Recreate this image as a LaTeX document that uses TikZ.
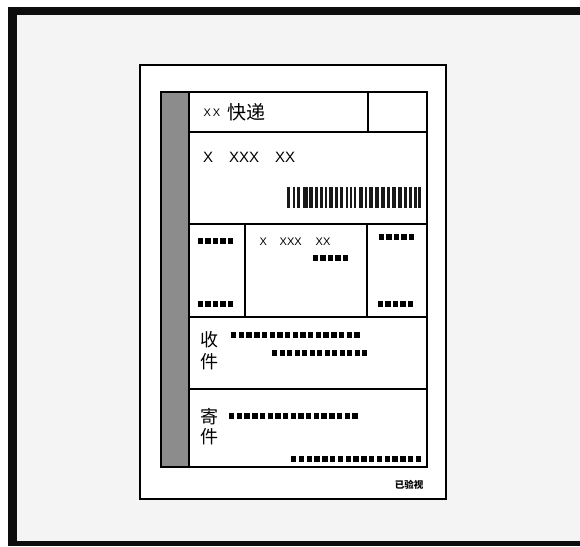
\documentclass[tikz,border=0pt]{standalone}
\usepackage{fontspec}
\setmainfont{Liberation Sans}
\newfontfamily\cjk{Noto Sans CJK SC}
\usetikzlibrary{positioning}
\definecolor{paper}{HTML}{F4F4F4}
\definecolor{strip}{HTML}{8C8C8C}
\tikzset{
  cell/.style={draw=black, line width=1.6pt},
  lbl/.style={inner sep=0pt, anchor=west},
  hanzi/.style={inner sep=0pt, font=\cjk\fontsize{18}{18}\selectfont},
}
% row of small black squares: x, y, count, pitch
\newcommand{\dotrow}[4]{%
  \foreach \k in {1,...,#3}
    \fill ({#1+(\k-1)*#4},{#2-2.7}) rectangle ++(5.4,5.4);}

\begin{document}
\begin{tikzpicture}[x=1pt,y=-1pt]
    \useasboundingbox (0,0) rectangle (580,546);
    \fill [white] (0,0) rectangle (580,546);
    \fill [black!95] (8,7) rectangle (580,546);
    \fill [paper] (16.5,14.5) rectangle (580,541);

    % the card
    \draw [fill = white, line width=1.5pt] (140,65) rectangle (446,499);
    \fill [strip] (161,92) rectangle (189,467);
    \draw [cell] (161,92) rectangle (427,467);
    \draw [cell] (189,92) -- (189,467);
    \draw [cell] (189,132) -- (427,132)
        (189,224) -- (427,224)
        (189,317) -- (427,317)
        (189,389) -- (427,389);
    \draw [cell] (368,92) -- (368,132)
        (245,224) -- (245,317)
        (367,224) -- (367,317);

    % header
    \node [lbl, font=\fontsize{11}{11}\selectfont] (brandx) at (203.5,113) {X\,X};
    \node [lbl, font=\cjk\fontsize{19}{19}\selectfont] (brand) at (227.5,112) {快递};
    \node [lbl, font=\fontsize{15}{15}\selectfont] (codea) at (203,157.5) {X};
    \node [lbl, font=\fontsize{15}{15}\selectfont] (codeb) at (229,157.5) {XXX};
    \node [lbl, font=\fontsize{15}{15}\selectfont] (codec) at (275,157.5) {XX};

    % barcode
    \foreach \x/\w in {287.3/2.7, 292.5/2.3, 297.3/2.7, 302.5/5, 308.8/4, 314.5/3.7,
        320.3/2.7, 324.7/2, 328.8/4, 334.7/3.3, 340.3/2.7, 345.7/2.3, 349.8/2,
        354.3/2, 358.5/4, 364.5/2, 368.5/4, 374.5/4.7, 381/4, 386.5/3.7,
        392.3/3.3, 397.8/4, 403.8/2.7, 408.5/3.3, 413.8/2.7, 418/2.5}
        \fill [black!90] (\x,186.7) rectangle ++(\w,21.6);

    % middle row
    \dotrow{198}{241}{5}{7.4}
    \dotrow{198}{304}{5}{7.4}
    \node [lbl, font=\fontsize{11}{11}\selectfont] (sma) at (259.5,242) {X};
    \node [lbl, font=\fontsize{11}{11}\selectfont] (smb) at (279.5,242) {XXX};
    \node [lbl, font=\fontsize{11}{11}\selectfont] (smc) at (315.5,242) {XX};
    \dotrow{313}{258}{5}{7.4}
    \dotrow{379}{237}{5}{7.4}
    \dotrow{378}{304}{5}{7.4}

    % receiver
    \node [hanzi] (shou) at (209,340) {收};
    \node [hanzi] (jiana) at (209,362) {件};
    \dotrow{231}{335}{17}{7.7}
    \dotrow{272}{353}{13}{7.5}

    % sender
    \node [hanzi] (ji) at (209,417) {寄};
    \node [hanzi] (jianb) at (209,437) {件};
    \dotrow{229}{416}{17}{7.7}
    \dotrow{291}{459}{17}{7.8}

    \node [inner sep=0pt, font=\cjk\bfseries\fontsize{9.5}{9.5}\selectfont] (seen) at (409,485) {已验视};
\end{tikzpicture}
\end{document}
